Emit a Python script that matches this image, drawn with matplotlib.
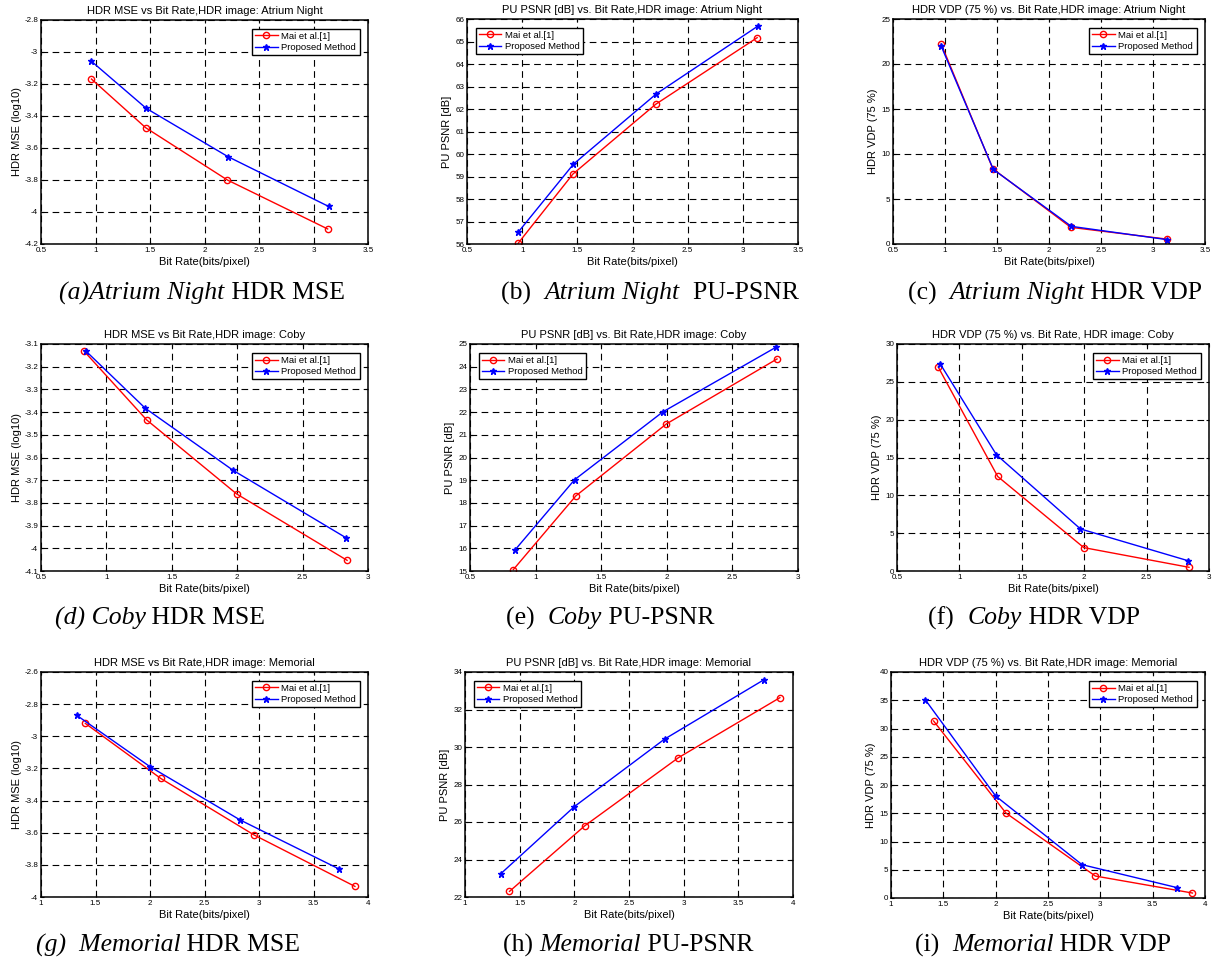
import numpy as np
import matplotlib
matplotlib.use("Agg")
import matplotlib.pyplot as plt
from matplotlib.ticker import FuncFormatter

plt.rcParams['font.family'] = ['Liberation Sans', 'DejaVu Sans']

# bit rates (bits/pixel) for each image
atrium_x_mai = [0.963, 1.46, 2.21, 3.13]
atrium_x_prop = [0.963, 1.465, 2.215, 3.138]
coby_x_mai = [0.83, 1.307, 1.997, 2.84]
coby_x_prop = [0.845, 1.297, 1.97, 2.83]
memorial_x_mai = [1.407, 2.098, 2.952, 3.88]
memorial_x_prop = [1.327, 2.0, 2.825, 3.735]

# metric values, Mai et al.[1] and proposed method
atrium_mse_mai = [-3.169, -3.473, -3.80, -4.106]
atrium_mse_prop = [-3.058, -3.352, -3.654, -3.965]
atrium_psnr_mai = [56.03, 59.11, 62.21, 65.17]
atrium_psnr_prop = [56.52, 59.55, 62.67, 65.69]
atrium_vdp_mai = [22.23, 8.36, 1.85, 0.55]
atrium_vdp_prop = [22.0, 8.28, 1.96, 0.48]

coby_mse_mai = [-3.132, -3.434, -3.761, -4.053]
coby_mse_prop = [-3.132, -3.383, -3.657, -3.953]
coby_psnr_mai = [15.06, 18.31, 21.48, 24.34]
coby_psnr_prop = [15.94, 19.02, 22.01, 24.85]
coby_vdp_mai = [26.96, 12.49, 3.09, 0.49]
coby_vdp_prop = [27.4, 15.36, 5.56, 1.37]

memorial_mse_mai = [-2.92, -3.262, -3.613, -3.934]
memorial_mse_prop = [-2.869, -3.189, -3.52, -3.826]
memorial_psnr_mai = [22.3, 25.81, 29.43, 32.63]
memorial_psnr_prop = [23.24, 26.82, 30.42, 33.59]
memorial_vdp_mai = [31.33, 15.04, 3.89, 0.88]
memorial_vdp_prop = [35.1, 18.05, 5.9, 1.83]

labels = ['Mai et al.[1]', 'Proposed Method']
ylabels = ['HDR MSE (log10)', 'PU PSNR [dB]', 'HDR VDP (75 %)']

panels = [
    # (x_mai, y_mai, x_prop, y_prop, title, ylabel idx, xlim, ylim, ystep, legend loc, caption parts)
    (atrium_x_mai, atrium_mse_mai, atrium_x_prop, atrium_mse_prop,
     'HDR MSE vs Bit Rate,HDR image: Atrium Night', 0, (0.5, 3.5), (-4.2, -2.8), 0.2, 'upper right',
     [('(a)Atrium Night', True), (' HDR MSE', False)]),
    (atrium_x_mai, atrium_psnr_mai, atrium_x_prop, atrium_psnr_prop,
     'PU PSNR [dB] vs. Bit Rate,HDR image: Atrium Night', 1, (0.5, 3.5), (56, 66), 1, 'upper left',
     [('(b)  ', False), ('Atrium Night', True), ('  PU-PSNR', False)]),
    (atrium_x_mai, atrium_vdp_mai, atrium_x_prop, atrium_vdp_prop,
     'HDR VDP (75 %) vs. Bit Rate,HDR image: Atrium Night', 2, (0.5, 3.5), (0, 25), 5, 'upper right',
     [('(c)  ', False), ('Atrium Night', True), (' HDR VDP', False)]),
    (coby_x_mai, coby_mse_mai, coby_x_prop, coby_mse_prop,
     'HDR MSE vs Bit Rate,HDR image: Coby', 0, (0.5, 3), (-4.1, -3.1), 0.1, 'upper right',
     [('(d) Coby', True), (' HDR MSE', False)]),
    (coby_x_mai, coby_psnr_mai, coby_x_prop, coby_psnr_prop,
     'PU PSNR [dB] vs. Bit Rate,HDR image: Coby', 1, (0.5, 3), (15, 25), 1, 'upper left',
     [('(e)  ', False), ('Coby', True), (' PU-PSNR', False)]),
    (coby_x_mai, coby_vdp_mai, coby_x_prop, coby_vdp_prop,
     'HDR VDP (75 %) vs. Bit Rate, HDR image: Coby', 2, (0.5, 3), (0, 30), 5, 'upper right',
     [('(f)  ', False), ('Coby', True), (' HDR VDP', False)]),
    (memorial_x_mai, memorial_mse_mai, memorial_x_prop, memorial_mse_prop,
     'HDR MSE vs Bit Rate,HDR image: Memorial', 0, (1, 4), (-4, -2.6), 0.2, 'upper right',
     [('(g)  Memorial', True), (' HDR MSE', False)]),
    (memorial_x_mai, memorial_psnr_mai, memorial_x_prop, memorial_psnr_prop,
     'PU PSNR [dB] vs. Bit Rate,HDR image: Memorial', 1, (1, 4), (22, 34), 2, 'upper left',
     [('(h) ', False), ('Memorial', True), (' PU-PSNR', False)]),
    (memorial_x_mai, memorial_vdp_mai, memorial_x_prop, memorial_vdp_prop,
     'HDR VDP (75 %) vs. Bit Rate,HDR image: Memorial', 2, (1, 4), (0, 40), 5, 'upper right',
     [('(i)  ', False), ('Memorial', True), (' HDR VDP', False)]),
]

# axes boxes in pixels: left, top, right, bottom
boxes = [
    (41, 20, 368, 244), (467, 19, 798, 244), (893, 19, 1205, 244),
    (41, 344, 368, 571), (470, 344, 798, 571), (897, 344, 1209, 571),
    (41, 672, 368, 897), (465, 672, 793, 897), (891, 672, 1205, 898),
]
# caption centre (x, y) in pixels
captions = [
    (202, 293), (650, 293), (1055, 293),
    (160, 618), (610, 618), (1034, 618),
    (168, 945), (628, 945), (1043, 945),
]

W, H = 1231, 965
fig = plt.figure(figsize=(W / 100, H / 100), dpi=100)
fmt = FuncFormatter(lambda v, _: '%g' % round(v, 6))
renderer = fig.canvas.get_renderer()

for p, box, cap in zip(panels, boxes, captions):
    xm, ym, xp, yp, title, yl, xlim, ylim, ystep, loc, parts = p
    l, t, r, b = box
    ax = fig.add_axes([l / W, 1 - b / H, (r - l) / W, (b - t) / H])
    ax.plot(xm, ym, color='red', lw=1, marker='o', ms=4.5, mfc='none', mec='red', label=labels[0])
    ax.plot(xp, yp, color='blue', lw=1, marker='*', ms=5, mfc='blue', mec='blue', label=labels[1])
    ax.set_xlim(*xlim)
    ax.set_ylim(*ylim)
    ax.set_xticks(np.arange(xlim[0], xlim[1] + 1e-9, 0.5))
    ax.set_yticks(np.arange(ylim[0], ylim[1] + 1e-9, ystep))
    ax.xaxis.set_major_formatter(fmt)
    ax.yaxis.set_major_formatter(fmt)
    ax.tick_params(direction='in', length=2.5, width=0.8, labelsize=5.8, pad=2,
                   top=True, right=True)
    ax.grid(True, color='black', linestyle=(0, (6, 4)), linewidth=0.8)
    for s in ax.spines.values():
        s.set_linewidth(1.1)
    ax.set_title(title, fontsize=8, pad=4)
    ax.set_xlabel('Bit Rate(bits/pixel)', fontsize=8, labelpad=2)
    ax.set_ylabel(ylabels[yl], fontsize=8, labelpad=2)
    leg = ax.legend(loc=loc, fontsize=6.8, fancybox=False, framealpha=1, edgecolor='black',
                    handlelength=2.4, borderpad=0.35, labelspacing=0.25, handletextpad=0.4,
                    borderaxespad=0.9)
    leg.get_frame().set_linewidth(1.0)

    # caption: italic and roman pieces laid out left to right, centred
    texts = []
    for s, it in parts:
        tx = fig.text(0, 1 - cap[1] / H, s, fontsize=18.5, family='Liberation Serif',
                      style='italic' if it else 'normal', ha='left', va='center')
        texts.append(tx)
    widths = [tx.get_window_extent(renderer).width for tx in texts]
    x0 = cap[0] - sum(widths) / 2
    for tx, w in zip(texts, widths):
        tx.set_x(x0 / W)
        x0 += w

fig.savefig('out.png', dpi=100)
